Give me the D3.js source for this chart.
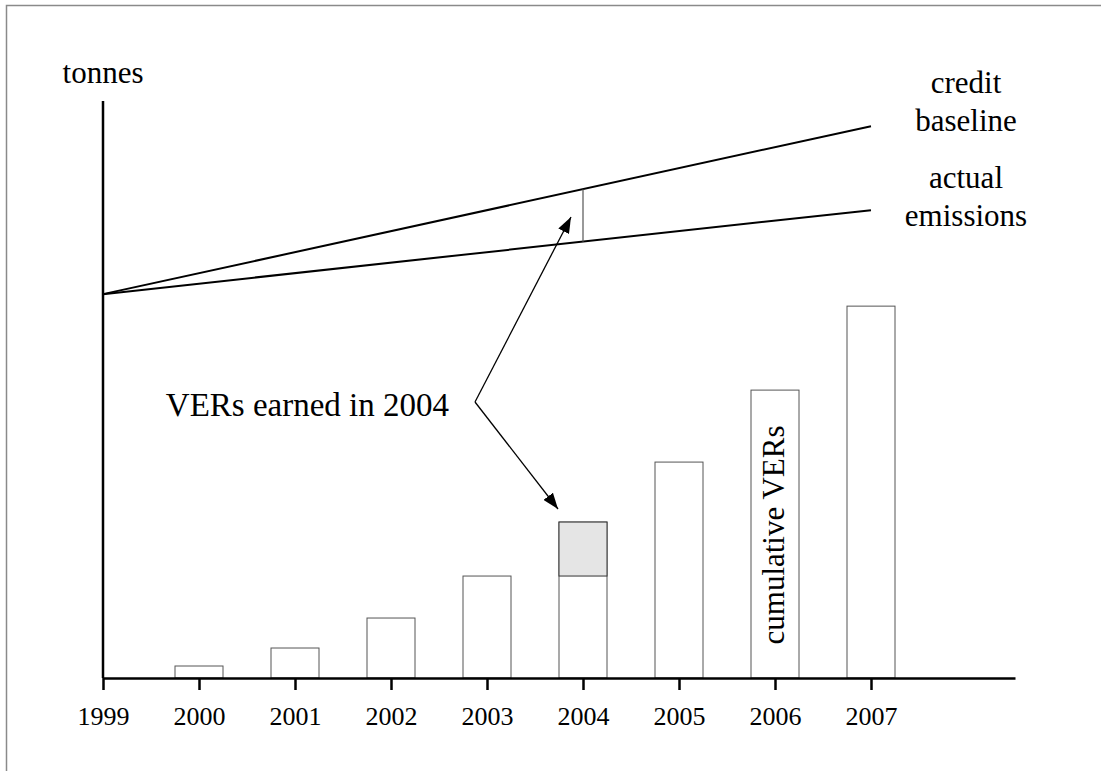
<!DOCTYPE html>
<html lang="en">
<head>
<meta charset="UTF-8" />
<title>VERs</title>
<style>
  body { margin: 0; background: #fff; }
  svg text { font-family: "Liberation Serif", "Times New Roman", serif; fill: #000; }
</style>
</head>
<body>
<svg width="1101" height="771" id="mainsvg"></svg>
<script src="https://cdn.jsdelivr.net/npm/d3@7"></script>
<script>
const svg = d3.select("#mainsvg")

// data
const years = [1999, 2000, 2001, 2002, 2003, 2004, 2005, 2006, 2007]
const barYears = [2000, 2001, 2002, 2003, 2004, 2005, 2006, 2007]
const cumulative = [2, 5, 10, 17, 26, 36, 48, 62]
const earnedYear = 2004
const earnedPrev = 17
const lineYears = [1999, 2007]
const creditBaseline = [64, 92]
const actualEmissions = [64, 78]

const x = d3.scaleLinear().domain([1999, 2008.5]).range([103, 1015])
const y = d3.scaleLinear().domain([0, 96.2]).range([678, 101])

// frame
svg.append("path")
  .attr("d", "M6.5,771 V5.5 H1101")
  .attr("fill", "none")
  .attr("stroke", "#8a8a8a")
  .attr("stroke-width", 1.5)

// bars
const bars = barYears.map((yr, i) => ({ yr, v: cumulative[i] }))
svg.selectAll("rect.bar")
  .data(bars)
  .join("rect")
  .attr("class", "bar")
  .attr("x", d => x(d.yr - 0.25))
  .attr("width", d => x(d.yr + 0.25) - x(d.yr - 0.25))
  .attr("y", d => y(d.v))
  .attr("height", d => y(0) - y(d.v))
  .attr("fill", "#fff")
  .attr("stroke", "#555")
  .attr("stroke-width", 1)

// VERs earned in 2004 (grey part)
const e = bars.find(d => d.yr === earnedYear)
svg.append("rect")
  .attr("x", x(earnedYear - 0.25))
  .attr("width", x(earnedYear + 0.25) - x(earnedYear - 0.25))
  .attr("y", y(e.v))
  .attr("height", y(earnedPrev) - y(e.v))
  .attr("fill", "#e5e5e5")
  .attr("stroke", "#333")
  .attr("stroke-width", 1)

// lines
const line = d3.line().x(d => x(d[0])).y(d => y(d[1]))
svg.append("path")
  .attr("d", line(lineYears.map((yr, i) => [yr, creditBaseline[i]])))
  .attr("fill", "none").attr("stroke", "#000").attr("stroke-width", 2)
svg.append("path")
  .attr("d", line(lineYears.map((yr, i) => [yr, actualEmissions[i]])))
  .attr("fill", "none").attr("stroke", "#000").attr("stroke-width", 2)

// gap in 2004
const interp = (vals, yr) => vals[0] + (vals[1] - vals[0]) * (yr - lineYears[0]) / (lineYears[1] - lineYears[0])
svg.append("line")
  .attr("x1", x(earnedYear)).attr("x2", x(earnedYear))
  .attr("y1", y(interp(creditBaseline, earnedYear)))
  .attr("y2", y(interp(actualEmissions, earnedYear)))
  .attr("stroke", "#555").attr("stroke-width", 1.2)

// axes
const xAxis = d3.axisBottom(x)
  .tickValues(years)
  .tickFormat(d3.format("d"))
  .tickSize(12)
  .tickSizeOuter(0)
  .tickPadding(17)
const gx = svg.append("g").attr("transform", `translate(0,${y(0)})`).call(xAxis)
gx.select(".domain").attr("stroke", "#000").attr("stroke-width", 2.5)
gx.selectAll(".tick line").attr("stroke", "#000").attr("stroke-width", 2.5)
gx.selectAll(".tick text")
  .style("font-family", '"Liberation Serif", serif')
  .style("font-size", "26px")
  .attr("fill", "#000")

svg.append("line")
  .attr("x1", x(1999)).attr("x2", x(1999))
  .attr("y1", y.range()[1]).attr("y2", y(0))
  .attr("stroke", "#000").attr("stroke-width", 2.5)

// labels
svg.append("text").attr("x", x(1999)).attr("y", 83)
  .attr("text-anchor", "middle").style("font-size", "31px").text("tonnes")

const lbl = svg.append("text").attr("text-anchor", "middle").style("font-size", "31px")
lbl.append("tspan").attr("x", 966).attr("y", 93).text("credit")
lbl.append("tspan").attr("x", 966).attr("y", 131).text("baseline")
const lbl2 = svg.append("text").attr("text-anchor", "middle").style("font-size", "31px")
lbl2.append("tspan").attr("x", 966).attr("y", 188).text("actual")
lbl2.append("tspan").attr("x", 966).attr("y", 226).text("emissions")

svg.append("text").attr("x", 449).attr("y", 416)
  .attr("text-anchor", "end").style("font-size", "33px").text("VERs earned in 2004")

svg.append("text")
  .attr("transform", `translate(${x(2006) + 9},535) rotate(-90)`)
  .attr("text-anchor", "middle").style("font-size", "31px").text("cumulative VERs")

// arrows
svg.append("defs").append("marker")
  .attr("id", "arrow")
  .attr("viewBox", "0 0 16 12")
  .attr("refX", 16).attr("refY", 6)
  .attr("markerWidth", 16).attr("markerHeight", 12)
  .attr("markerUnits", "userSpaceOnUse")
  .attr("orient", "auto")
  .append("path").attr("d", "M0,0 L16,6 L0,12 Z").attr("fill", "#000")

const vx = 475, vy = 402
svg.append("line").attr("x1", vx).attr("y1", vy).attr("x2", 571).attr("y2", 217)
  .attr("stroke", "#000").attr("stroke-width", 1.3).attr("marker-end", "url(#arrow)")
svg.append("line").attr("x1", vx).attr("y1", vy).attr("x2", 558).attr("y2", 509)
  .attr("stroke", "#000").attr("stroke-width", 1.3).attr("marker-end", "url(#arrow)")
</script>
</body>
</html>
